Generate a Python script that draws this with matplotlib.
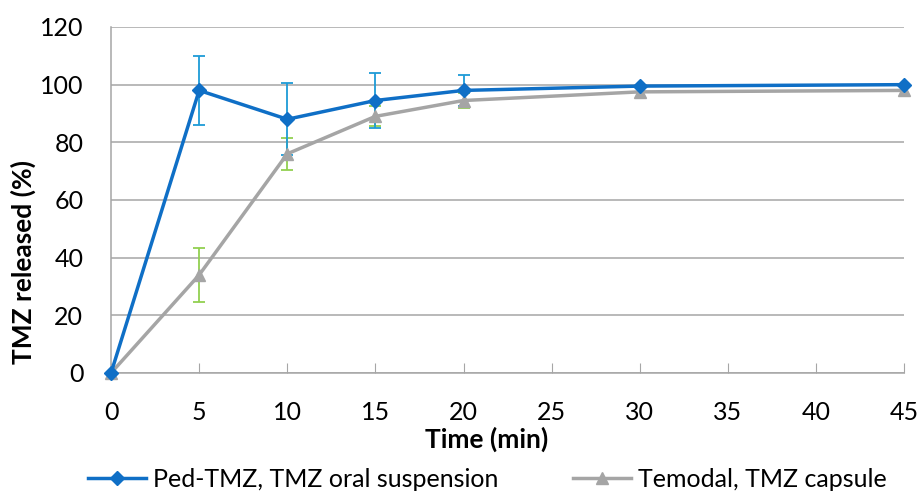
import matplotlib
matplotlib.use("Agg")
import matplotlib.pyplot as plt

plt.rcParams['font.family'] = ['Lato', 'DejaVu Sans']

time = [0, 5, 10, 15, 20, 30, 45]
ped_tmz = [0, 98, 88, 94.5, 98, 99.5, 100]
ped_err = [0, 12, 12.5, 9.5, 5.5, 0, 0]
temodal = [0, 34, 76, 89, 94.5, 97.5, 98]
tem_err = [0, 9.3, 5.5, 3.5, 2.5, 0, 0]

labels = ["Ped-TMZ, TMZ oral suspension", "Temodal, TMZ capsule"]
x_ticks = [0, 5, 10, 15, 20, 25, 30, 35, 40, 45]
y_ticks = [0, 20, 40, 60, 80, 100, 120]

fig = plt.figure(figsize=(9.2, 4.96), dpi=100)
ax = fig.add_axes([0.1207, 0.248, 0.862, 0.6976])

ax.errorbar(time, temodal, yerr=tem_err, fmt='none', ecolor='#92D050',
            elinewidth=1.3, capsize=4, capthick=1.3, zorder=2)
ax.errorbar(time, ped_tmz, yerr=ped_err, fmt='none', ecolor='#1E9BD7',
            elinewidth=1.3, capsize=4, capthick=1.3, zorder=2)
ax.plot(time, temodal, color='#A5A5A5', lw=2.5, marker='^', ms=8.5,
        label=labels[1], zorder=3, clip_on=False)
ax.plot(time, ped_tmz, color='#0F6FC6', lw=2.5, marker='D', ms=7.5,
        label=labels[0], zorder=4, clip_on=False)

ax.set_xlim(0, 45)
ax.set_ylim(0, 120)
ax.set_xticks(x_ticks)
ax.set_yticks(y_ticks)
ax.yaxis.grid(True, color='#A6A6A6', lw=1.1)
ax.set_axisbelow(True)
for s in ['top', 'right']:
    ax.spines[s].set_visible(False)
ax.spines['left'].set_color('#A6A6A6')
ax.spines['bottom'].set_color('#A6A6A6')
ax.spines['left'].set_linewidth(1.1)
ax.spines['bottom'].set_linewidth(1.1)
ax.tick_params(axis='x', direction='in', length=7, color='#A6A6A6',
               labelsize=18, pad=20)
ax.tick_params(axis='y', length=0, labelsize=18, pad=20)

ax.set_xlabel("Time (min)", fontsize=19, fontweight='bold', labelpad=0)
ax.xaxis.set_label_coords(0.473, -0.155)
ax.set_ylabel("TMZ released (%)", fontsize=19, fontweight='bold')
ax.yaxis.set_label_coords(-0.094, 0.321)

handles, lbls = ax.get_legend_handles_labels()
fig.legend(handles[::-1], lbls[::-1], loc='lower center', ncol=2,
           bbox_to_anchor=(0.53, -0.035), frameon=False, fontsize=18,
           handlelength=2.3, handletextpad=0.3, columnspacing=3.0)

fig.savefig("out.png", dpi=100)
